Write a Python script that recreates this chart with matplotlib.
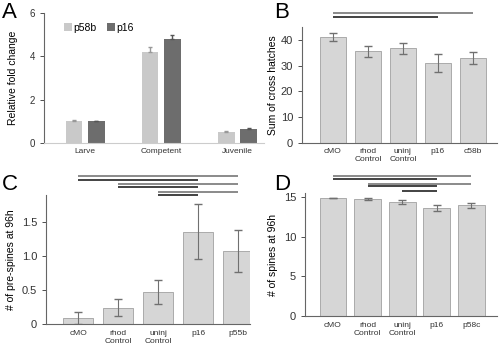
import matplotlib.pyplot as plt
from matplotlib.transforms import blended_transform_factory

plt.rcParams['font.family'] = ['Liberation Sans', 'DejaVu Sans']

# Panel A data
stages = ["Larve", "Competent", "Juvenile"]
p58b_fold = [1.0, 4.2, 0.5]
p58b_err = [0.08, 0.25, 0.03]
p16_fold = [1.0, 4.8, 0.63]
p16_err = [0.02, 0.2, 0.08]

# Panels B-D data
groups_bc = ["cMO", "rhod\nControl", "uninj\nControl", "p16", "c58b"]
groups_c = ["cMO", "rhod\nControl", "uninj\nControl", "p16", "p55b"]
groups_d = ["cMO", "rhod\nControl", "uninj\nControl", "p16", "p58c"]
hatches = [41.0, 35.5, 36.7, 31.0, 33.0]
hatches_err = [1.5, 2.0, 2.0, 3.5, 2.2]
prespines = [0.09, 0.24, 0.47, 1.36, 1.07]
prespines_err = [0.09, 0.125, 0.18, 0.41, 0.31]
spines = [14.9, 14.75, 14.4, 13.65, 13.95]
spines_err = [0.05, 0.1, 0.25, 0.4, 0.35]

# significance comparisons (from, to)
sig_b = [(0, 4), (0, 3)]
sig_c = [(0, 4), (0, 3), (1, 4), (1, 3), (2, 4), (2, 3)]
sig_d = [(0, 4), (0, 3), (1, 4), (1, 3), (2, 3)]

fig = plt.figure(figsize=(5, 3.46), dpi=100)

def style(ax, ysize=7.5):
    for s in ["top", "right"]:
        ax.spines[s].set_visible(False)
    for s in ["left", "bottom"]:
        ax.spines[s].set_color("#666666")
        ax.spines[s].set_linewidth(0.8)
    ax.tick_params(colors="#333333", length=3, width=0.6, labelsize=ysize)
    ax.tick_params(axis="x", length=0, labelsize=6, pad=4)

def sig_lines(ax, pairs, ys):
    tr = blended_transform_factory(ax.transData, fig.transFigure)
    for (a, b), y in zip(pairs, ys):
        col = "#777777" if b == 4 else "#222222"
        ax.plot([a, b], [1 - y / 346, 1 - y / 346], transform=tr,
                color=col, lw=1.2, clip_on=False, solid_capstyle="butt")

# ---- A ----
axA = fig.add_axes([0.088, 0.587, 0.44, 0.375])
xa = range(len(stages))
off = 0.147
axA.bar([x - off for x in xa], p58b_fold, 0.22, color="#c9c9c9", label="p58b",
        yerr=[[0] * 3, p58b_err], error_kw=dict(ecolor="#999999", capsize=1.5, elinewidth=1))
axA.bar([x + off for x in xa], p16_fold, 0.22, color="#6d6d6d", label="p16",
        yerr=[[0] * 3, p16_err], error_kw=dict(ecolor="#555555", capsize=1.5, elinewidth=1))
axA.set_xlim(-0.54, 2.35)
axA.set_ylim(0, 6)
axA.set_yticks([0, 2, 4, 6])
axA.set_xticks(list(xa))
axA.set_xticklabels(stages)
axA.set_ylabel("Relative fold change", fontsize=7.5, labelpad=8)
style(axA, 7)
axA.spines["bottom"].set_color("#cccccc")
axA.legend(loc="upper left", ncol=2, frameon=False, fontsize=7.5, handlelength=0.7,
           handleheight=0.7, handletextpad=0.2, columnspacing=1.0,
           bbox_to_anchor=(0.05, 1.0))

# ---- B ----
axB = fig.add_axes([0.604, 0.587, 0.39, 0.335])
axB.bar(range(5), hatches, 0.75, color="#d6d6d6", edgecolor="#a0a0a0", lw=0.6,
        yerr=hatches_err, error_kw=dict(ecolor="#707070", capsize=3, elinewidth=0.8))
axB.set_xlim(-0.886, 4.69)
axB.set_ylim(0, 45)
axB.set_yticks([0, 10, 20, 30, 40])
axB.set_xticks(range(5))
axB.set_xticklabels(groups_bc)
axB.set_ylabel("Sum of cross hatches", fontsize=7.5, labelpad=2)
style(axB, 8)
sig_lines(axB, sig_b, [13, 17])

# ---- C ----
axC = fig.add_axes([0.092, 0.0636, 0.408, 0.373])
axC.bar(range(5), prespines, 0.75, color="#d6d6d6", edgecolor="#a0a0a0", lw=0.6,
        yerr=prespines_err, error_kw=dict(ecolor="#707070", capsize=3, elinewidth=0.8))
axC.set_xlim(-0.8, 4.3)
axC.set_ylim(0, 1.9)
axC.set_yticks([0, 0.5, 1.0, 1.5])
axC.set_yticklabels(["0", "0.5", "1.0", "1.5"])
axC.set_xticks(range(5))
axC.set_xticklabels(groups_c)
axC.set_ylabel("# of pre-spines at 96h", fontsize=7.5, labelpad=4)
style(axC, 8)
sig_lines(axC, sig_c, [176, 180, 184, 187, 192, 195])

# ---- D ----
axD = fig.add_axes([0.61, 0.0867, 0.384, 0.355])
axD.bar(range(5), spines, 0.78, color="#d6d6d6", edgecolor="#a0a0a0", lw=0.6,
        yerr=spines_err, error_kw=dict(ecolor="#707070", capsize=3, elinewidth=0.8))
axD.set_xlim(-0.81, 4.75)
axD.set_ylim(0, 15.5)
axD.set_yticks([0, 5, 10, 15])
axD.set_xticks(range(5))
axD.set_xticklabels(groups_d)
axD.set_ylabel("# of spines at 96h", fontsize=7.5, labelpad=4)
style(axD, 8)
sig_lines(axD, sig_d, [176, 179, 184, 186, 191])

# panel letters
for lbl, x, y in [("A", 0.004, 0.995), ("B", 0.548, 0.995),
                  ("C", 0.004, 0.498), ("D", 0.548, 0.498)]:
    fig.text(x, y, lbl, fontsize=16, va="top", ha="left")

fig.savefig("out.png", dpi=100)
